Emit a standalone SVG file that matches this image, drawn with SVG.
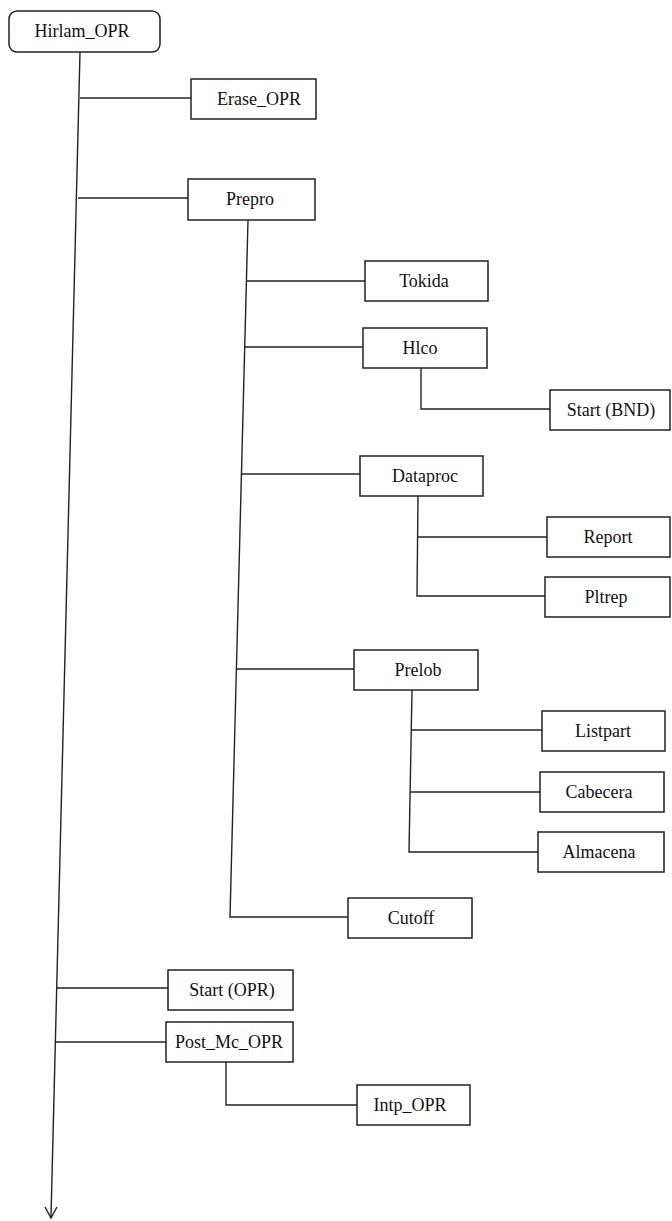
<svg xmlns="http://www.w3.org/2000/svg" width="672" height="1221" viewBox="0 0 672 1221">
<style>
.box{fill:#fff;stroke:#222;stroke-width:1.5}
.lbl{font-family:"Liberation Serif","Times New Roman",serif;font-size:18px;fill:#111;text-anchor:middle}
.con{fill:none;stroke:#222;stroke-width:1.4}
</style>
<rect width="672" height="1221" fill="#fff"/>
<g id="connectors">
<polyline class="con" points="80,52 51,1217"/>
<polyline class="con" points="45,1207 51,1218 57,1207"/>
<line class="con" x1="80" y1="98" x2="191" y2="98"/>
<line class="con" x1="78" y1="198" x2="188" y2="198"/>
<line class="con" x1="57" y1="988" x2="168" y2="988"/>
<line class="con" x1="55" y1="1042" x2="166" y2="1042"/>
<polyline class="con" points="248,220 230,917 348,917"/>
<line class="con" x1="246" y1="281" x2="365" y2="281"/>
<line class="con" x1="245" y1="347" x2="363" y2="347"/>
<line class="con" x1="241" y1="474" x2="360" y2="474"/>
<line class="con" x1="236" y1="669" x2="354" y2="669"/>
<polyline class="con" points="421,368 421,409 550,409"/>
<polyline class="con" points="418,496 417,596 545,596"/>
<line class="con" x1="418" y1="537" x2="547" y2="537"/>
<polyline class="con" points="412,690 409,852 538,852"/>
<line class="con" x1="412" y1="730" x2="542" y2="730"/>
<line class="con" x1="411" y1="792" x2="540" y2="792"/>
<polyline class="con" points="226,1062 226,1105 357,1105"/>
</g>
<g id="hirlam_opr"><rect class="box" x="9" y="11" width="151" height="41" rx="8"/><text class="lbl" x="82" y="37">Hirlam_OPR</text></g>
<g id="erase_opr"><rect class="box" x="191" y="79" width="125" height="40"/><text class="lbl" x="259" y="105">Erase_OPR</text></g>
<g id="prepro"><rect class="box" x="188" y="179" width="127" height="41"/><text class="lbl" x="250" y="205">Prepro</text></g>
<g id="tokida"><rect class="box" x="365" y="261" width="123" height="40"/><text class="lbl" x="424" y="287">Tokida</text></g>
<g id="hlco"><rect class="box" x="363" y="328" width="124" height="40"/><text class="lbl" x="420" y="354">Hlco</text></g>
<g id="start_bnd"><rect class="box" x="550" y="390" width="120" height="40"/><text class="lbl" x="611" y="416">Start (BND)</text></g>
<g id="dataproc"><rect class="box" x="360" y="456" width="123" height="40"/><text class="lbl" x="425" y="482">Dataproc</text></g>
<g id="report"><rect class="box" x="547" y="517" width="123" height="40"/><text class="lbl" x="608" y="543">Report</text></g>
<g id="pltrep"><rect class="box" x="545" y="577" width="125" height="40"/><text class="lbl" x="606" y="603">Pltrep</text></g>
<g id="prelob"><rect class="box" x="354" y="650" width="124" height="40"/><text class="lbl" x="418" y="676">Prelob</text></g>
<g id="listpart"><rect class="box" x="542" y="711" width="123" height="40"/><text class="lbl" x="603" y="737">Listpart</text></g>
<g id="cabecera"><rect class="box" x="540" y="772" width="124" height="40"/><text class="lbl" x="599" y="798">Cabecera</text></g>
<g id="almacena"><rect class="box" x="538" y="832" width="126" height="40"/><text class="lbl" x="599" y="858">Almacena</text></g>
<g id="cutoff"><rect class="box" x="348" y="898" width="124" height="40"/><text class="lbl" x="411" y="924">Cutoff</text></g>
<g id="start_opr"><rect class="box" x="168" y="970" width="125" height="40"/><text class="lbl" x="232" y="996">Start (OPR)</text></g>
<g id="post_mc_opr"><rect class="box" x="166" y="1022" width="127" height="40"/><text class="lbl" x="229" y="1048">Post_Mc_OPR</text></g>
<g id="intp_opr"><rect class="box" x="357" y="1085" width="113" height="40"/><text class="lbl" x="410" y="1111">Intp_OPR</text></g>
</svg>
